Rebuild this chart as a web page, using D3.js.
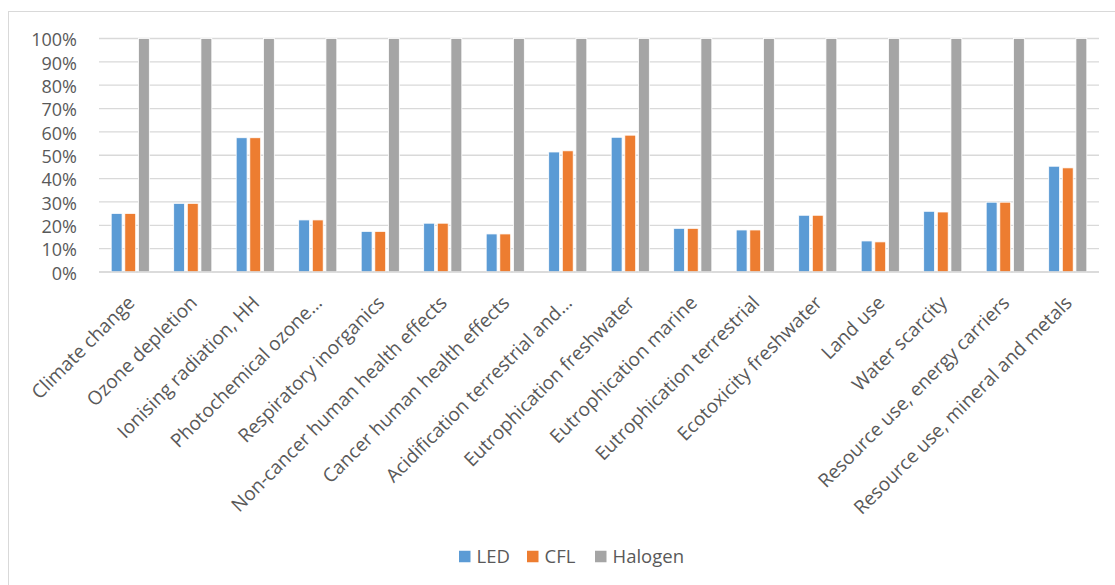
<!DOCTYPE html>
<html>
<head>
<meta charset="utf-8">
<script src="https://cdn.jsdelivr.net/npm/d3@7"></script>
<style>
  html, body { margin: 0; padding: 0; background: #fff; }
  svg { display: block; }
  text { font-family: "Open Sans", "DejaVu Sans", sans-serif; fill: #595959; }
</style>
</head>
<body>
<svg id="chart" width="1115" height="585"></svg>
<script>
// Impact categories (x axis)
const categories = [
  "Climate change",
  "Ozone depletion",
  "Ionising radiation, HH",
  "Photochemical ozone…",
  "Respiratory inorganics",
  "Non-cancer human health effects",
  "Cancer human health effects",
  "Acidification terrestrial and…",
  "Eutrophication freshwater",
  "Eutrophication marine",
  "Eutrophication terrestrial",
  "Ecotoxicity freshwater",
  "Land use",
  "Water scarcity",
  "Resource use, energy carriers",
  "Resource use, mineral and metals"
];

// Relative impacts, normalised to the halogen lamp (= 1)
const ledValues = [0.251, 0.294, 0.575, 0.223, 0.174, 0.209, 0.163, 0.514, 0.577, 0.187, 0.180, 0.243, 0.133, 0.260, 0.299, 0.453];
const cflValues = [0.251, 0.294, 0.575, 0.223, 0.174, 0.209, 0.163, 0.519, 0.586, 0.187, 0.180, 0.243, 0.129, 0.257, 0.299, 0.446];
const halogenValues = [1, 1, 1, 1, 1, 1, 1, 1, 1, 1, 1, 1, 1, 1, 1, 1];

const seriesNames = ["LED", "CFL", "Halogen"];
const seriesColors = ["#5b9bd5", "#ed7d31", "#a5a5a5"];
const yTicks = [0, 0.1, 0.2, 0.3, 0.4, 0.5, 0.6, 0.7, 0.8, 0.9, 1.0];

const series = [ledValues, cflValues, halogenValues];

const svg = d3.select("#chart");

// chart area frame
svg.append("rect")
  .attr("x", 8.5).attr("y", 11.5)
  .attr("width", 1120).attr("height", 600)
  .attr("fill", "#fff")
  .attr("stroke", "#d9d9d9")
  .attr("stroke-width", 1);

const plot = { left: 99, right: 1099, top: 38.5, bottom: 272 };

const x = d3.scaleBand()
  .domain(categories)
  .range([plot.left, plot.right])
  .paddingInner(0.39)
  .paddingOuter(0.195);

const xSub = d3.scaleBand()
  .domain(seriesNames)
  .range([0, x.bandwidth()])
  .paddingInner(0.2);

const y = d3.scaleLinear()
  .domain([0, 1])
  .range([plot.bottom, plot.top]);

// horizontal gridlines
svg.append("g")
  .selectAll("line")
  .data(yTicks)
  .join("line")
  .attr("x1", plot.left).attr("x2", plot.right)
  .attr("y1", d => y(d)).attr("y2", d => y(d))
  .attr("stroke", "#d9d9d9")
  .attr("stroke-width", 1.3);

// y axis labels
const yAxis = d3.axisLeft(y)
  .tickValues(yTicks)
  .tickFormat(d3.format(".0%"))
  .tickSize(0)
  .tickPadding(0);

const yG = svg.append("g")
  .attr("transform", `translate(${plot.left - 22},0)`)
  .call(yAxis);
yG.select(".domain").remove();
yG.selectAll("text")
  .attr("font-size", 18)
  .attr("fill", "#595959")
  .attr("dy", "0.4em");

// bars
const groups = svg.append("g")
  .selectAll("g")
  .data(categories)
  .join("g")
  .attr("transform", d => `translate(${x(d)},0)`);

groups.selectAll("rect")
  .data((d, i) => series.map((s, k) => ({ key: seriesNames[k], value: s[i], color: seriesColors[k] })))
  .join("rect")
  .attr("x", d => xSub(d.key))
  .attr("width", xSub.bandwidth())
  .attr("y", d => y(d.value))
  .attr("height", d => y(0) - y(d.value))
  .attr("fill", d => d.color)
  .attr("stroke", "#ffffff")
  .attr("stroke-width", 0.8);

// x axis baseline
svg.append("line")
  .attr("x1", plot.left).attr("x2", plot.right)
  .attr("y1", plot.bottom).attr("y2", plot.bottom)
  .attr("stroke", "#d9d9d9")
  .attr("stroke-width", 1.3);

// rotated category labels
const xAxis = d3.axisBottom(x).tickSize(0).tickPadding(0);
const xG = svg.append("g")
  .attr("transform", `translate(0,${plot.bottom})`)
  .call(xAxis);
xG.select(".domain").remove();
xG.selectAll("text")
  .attr("font-size", 19)
  .attr("fill", "#595959")
  .attr("text-anchor", "end")
  .attr("dy", 0)
  .attr("y", 0)
  .attr("transform", "translate(5.5,32) rotate(-45)");

// legend
const legend = svg.append("g").attr("transform", "translate(459,556.5)");
const legendX = [0, 68, 136];
seriesNames.forEach((name, k) => {
  const g = legend.append("g").attr("transform", `translate(${legendX[k]},0)`);
  g.append("rect")
    .attr("x", 0).attr("y", -5.75)
    .attr("width", 11.5).attr("height", 11.5)
    .attr("fill", seriesColors[k]);
  g.append("text")
    .attr("x", 17.5).attr("y", 0)
    .attr("dy", "0.35em")
    .attr("font-size", 18.5)
    .text(name);
});
</script>
</body>
</html>
